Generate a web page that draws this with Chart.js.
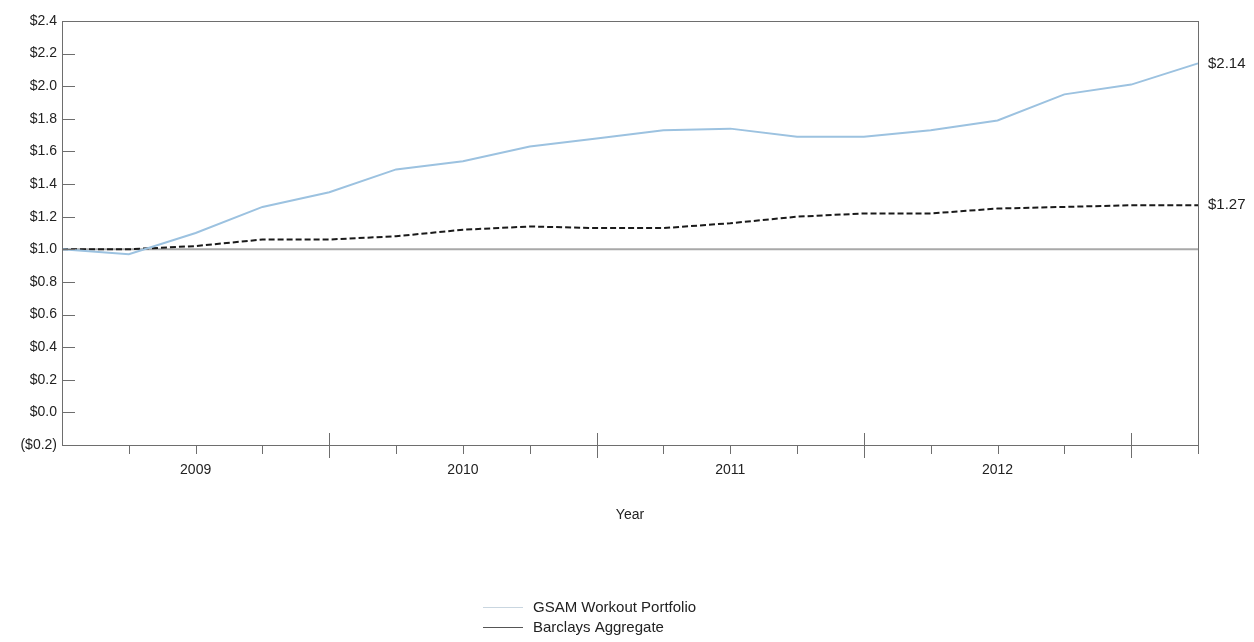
<!DOCTYPE html>
<html>
<head>
<meta charset="utf-8">
<script src="https://cdn.jsdelivr.net/npm/chart.js@4/dist/chart.umd.min.js"></script>
<style>
  html, body { margin: 0; padding: 0; background: #fff; }
  #wrap { width: 1254px; height: 642px; }
</style>
</head>
<body>
<div id="wrap"><canvas id="growthChart" width="1254" height="642"></canvas></div>
<script>
// quarter ends, Dec 2008 .. Mar 2013
const periods = ["Dec 2008", "Mar 2009", "Jun 2009", "Sep 2009", "Dec 2009", "Mar 2010", "Jun 2010", "Sep 2010", "Dec 2010",
  "Mar 2011", "Jun 2011", "Sep 2011", "Dec 2011", "Mar 2012", "Jun 2012", "Sep 2012", "Dec 2012", "Mar 2013"];
const tickLabels = ["", "", "2009", "", "", "", "2010", "", "", "", "2011", "", "", "", "2012", "", "", ""];
const majorTicks = [4, 8, 12, 16];
const gsam = [1.00, 0.97, 1.10, 1.26, 1.35, 1.49, 1.54, 1.63, 1.68, 1.73, 1.74, 1.69, 1.69, 1.73, 1.79, 1.95, 2.01, 2.14];
const barclays = [1.00, 1.00, 1.02, 1.06, 1.06, 1.08, 1.12, 1.14, 1.13, 1.13, 1.16, 1.20, 1.22, 1.22, 1.25, 1.26, 1.27, 1.27];
const seriesNames = ["GSAM Workout Portfolio", "Barclays Aggregate"];
const endLabels = ["$2.14", "$1.27"];

const FONT = "'Liberation Sans', Arial, sans-serif";

function money(v) {
  v = Math.round(v * 10) / 10;
  if (v < 0) return "($" + Math.abs(v).toFixed(1) + ")";
  return "$" + v.toFixed(1);
}

const frame = {
  id: "frame",
  beforeDatasetsDraw(chart) {
    const ctx = chart.ctx, a = chart.chartArea, y = chart.scales.y;
    ctx.save();
    // baseline at $1.0
    ctx.strokeStyle = "#a8a8a8";
    ctx.lineWidth = 2;
    ctx.beginPath();
    ctx.moveTo(a.left, y.getPixelForValue(1));
    ctx.lineTo(a.right, y.getPixelForValue(1));
    ctx.stroke();
    ctx.restore();
  },
  afterDraw(chart) {
    const ctx = chart.ctx, a = chart.chartArea, x = chart.scales.x, y = chart.scales.y;
    ctx.save();
    ctx.strokeStyle = "#6e6e6e";
    ctx.lineWidth = 1;
    ctx.strokeRect(a.left + 0.5, a.top + 0.5, a.right - a.left, a.bottom - a.top);
    // y ticks inside the plot
    ctx.beginPath();
    y.ticks.forEach(t => {
      const py = Math.round(y.getPixelForValue(t.value)) + 0.5;
      ctx.moveTo(a.left, py);
      ctx.lineTo(a.left + 13, py);
    });
    // x ticks
    periods.forEach((p, i) => {
      if (i === 0) return;
      const px = Math.round(x.getPixelForValue(i)) + 0.5;
      if (majorTicks.includes(i)) {
        ctx.moveTo(px, a.bottom - 12);
        ctx.lineTo(px, a.bottom + 13);
      } else {
        ctx.moveTo(px, a.bottom);
        ctx.lineTo(px, a.bottom + 9);
      }
    });
    ctx.stroke();

    // end value labels
    ctx.fillStyle = "#222";
    ctx.font = "15px " + FONT;
    ctx.textBaseline = "middle";
    ctx.textAlign = "left";
    chart.data.datasets.forEach((ds, i) => {
      const last = ds.data.length - 1;
      ctx.fillText(endLabels[i], a.right + 10, y.getPixelForValue(ds.data[last]));
    });

    // legend
    const legendColors = ["#c9d6e0", "#555"];
    seriesNames.forEach((name, i) => {
      const ly = 607 + i * 20;
      ctx.strokeStyle = legendColors[i];
      ctx.lineWidth = 1;
      ctx.beginPath();
      ctx.moveTo(483, ly + 0.5);
      ctx.lineTo(523, ly + 0.5);
      ctx.stroke();
      ctx.fillStyle = "#222";
      ctx.fillText(name, 533, ly + 1);
    });
    ctx.restore();
  }
};

new Chart(document.getElementById("growthChart"), {
  type: "line",
  data: {
    labels: periods,
    datasets: [{
      label: seriesNames[0],
      data: gsam,
      borderColor: "#9cc2e0",
      borderWidth: 2,
      pointRadius: 0,
      tension: 0,
      fill: false
    }, {
      label: seriesNames[1],
      data: barclays,
      borderColor: "#1a1a1a",
      borderWidth: 2,
      borderDash: [6, 3],
      pointRadius: 0,
      tension: 0,
      fill: false
    }]
  },
  options: {
    responsive: false,
    animation: false,
    layout: { padding: { top: 21, right: 56, left: 0, bottom: 0 } },
    plugins: {
      legend: { display: false },
      tooltip: { enabled: false }
    },
    scales: {
      x: {
        offset: false,
        grid: { display: false, drawTicks: false },
        border: { display: false },
        ticks: {
          autoSkip: false,
          maxRotation: 0,
          padding: 17,
          color: "#222",
          font: { family: FONT, size: 14 },
          callback: (v, i) => tickLabels[i]
        },
        title: {
          display: true,
          text: "Year",
          color: "#222",
          font: { family: FONT, size: 14 },
          padding: { top: 0, bottom: 118 }
        },
        afterFit: s => { s.height = 197; }
      },
      y: {
        min: -0.2,
        max: 2.4,
        grid: { display: false, drawTicks: false },
        border: { display: false },
        ticks: {
          stepSize: 0.2,
          padding: 5,
          color: "#222",
          font: { family: FONT, size: 14 },
          callback: v => money(v)
        },
        afterFit: s => { s.width = 62; }
      }
    }
  },
  plugins: [frame]
});
</script>
</body>
</html>
